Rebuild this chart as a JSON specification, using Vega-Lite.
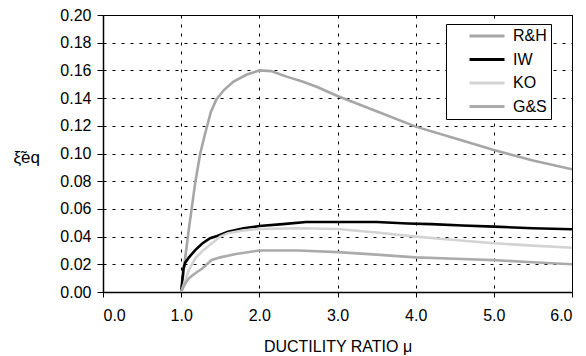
{
  "$schema": "https://vega.github.io/schema/vega-lite/v6.json",
  "width": 469,
  "height": 277,
  "autosize": "none",
  "padding": {"left": 103, "top": 15, "right": 14, "bottom": 64},
  "background": "white",
  "config": {
    "font": "Liberation Sans",
    "view": {"stroke": "black", "strokeWidth": 1},
    "axis": {
      "labelFont": "Liberation Sans",
      "titleFont": "Liberation Sans",
      "labelFontSize": 16,
      "titleFontSize": 16,
      "labelColor": "black",
      "titleColor": "black",
      "titleFontWeight": "normal",
      "domainColor": "black",
      "domainWidth": 1.5,
      "tickColor": "black",
      "tickWidth": 1,
      "gridColor": "black",
      "gridDash": [3, 6],
      "gridWidth": 1,
      "gridOpacity": 1
    },
    "legend": {
      "labelFont": "Liberation Sans",
      "labelFontSize": 16,
      "labelColor": "black"
    }
  },
  "data": {
    "values": [
      {"model": "R&H", "mu": 1.0, "xi": 0},
      {"model": "R&H", "mu": 1.05, "xi": 0.024},
      {"model": "R&H", "mu": 1.1, "xi": 0.046},
      {"model": "R&H", "mu": 1.18, "xi": 0.079},
      {"model": "R&H", "mu": 1.244, "xi": 0.1},
      {"model": "R&H", "mu": 1.3, "xi": 0.113},
      {"model": "R&H", "mu": 1.38, "xi": 0.13},
      {"model": "R&H", "mu": 1.45, "xi": 0.139},
      {"model": "R&H", "mu": 1.55, "xi": 0.146},
      {"model": "R&H", "mu": 1.67, "xi": 0.152},
      {"model": "R&H", "mu": 1.84, "xi": 0.157},
      {"model": "R&H", "mu": 2.0, "xi": 0.16},
      {"model": "R&H", "mu": 2.15, "xi": 0.1595},
      {"model": "R&H", "mu": 2.35, "xi": 0.1555},
      {"model": "R&H", "mu": 2.55, "xi": 0.152},
      {"model": "R&H", "mu": 2.74, "xi": 0.148},
      {"model": "R&H", "mu": 3.0, "xi": 0.1415},
      {"model": "R&H", "mu": 3.5, "xi": 0.1305},
      {"model": "R&H", "mu": 4.0, "xi": 0.1194},
      {"model": "R&H", "mu": 4.5, "xi": 0.111},
      {"model": "R&H", "mu": 5.0, "xi": 0.1025},
      {"model": "R&H", "mu": 5.5, "xi": 0.095},
      {"model": "R&H", "mu": 6.0, "xi": 0.0886},
      {"model": "IW", "mu": 1.0, "xi": 0},
      {"model": "IW", "mu": 1.03, "xi": 0.017},
      {"model": "IW", "mu": 1.05, "xi": 0.021},
      {"model": "IW", "mu": 1.1, "xi": 0.025},
      {"model": "IW", "mu": 1.18, "xi": 0.0303},
      {"model": "IW", "mu": 1.27, "xi": 0.035},
      {"model": "IW", "mu": 1.37, "xi": 0.0388},
      {"model": "IW", "mu": 1.46, "xi": 0.0405},
      {"model": "IW", "mu": 1.6, "xi": 0.0435},
      {"model": "IW", "mu": 1.8, "xi": 0.046},
      {"model": "IW", "mu": 2.0, "xi": 0.0476},
      {"model": "IW", "mu": 2.3, "xi": 0.049},
      {"model": "IW", "mu": 2.6, "xi": 0.0505},
      {"model": "IW", "mu": 3.0, "xi": 0.0505},
      {"model": "IW", "mu": 3.5, "xi": 0.0505},
      {"model": "IW", "mu": 3.9, "xi": 0.0495},
      {"model": "IW", "mu": 4.2, "xi": 0.049},
      {"model": "IW", "mu": 4.6, "xi": 0.048},
      {"model": "IW", "mu": 5.0, "xi": 0.0472},
      {"model": "IW", "mu": 5.5, "xi": 0.046},
      {"model": "IW", "mu": 6.0, "xi": 0.0453},
      {"model": "KO", "mu": 1.0, "xi": 0},
      {"model": "KO", "mu": 1.1, "xi": 0.016},
      {"model": "KO", "mu": 1.18, "xi": 0.0243},
      {"model": "KO", "mu": 1.28, "xi": 0.03},
      {"model": "KO", "mu": 1.39, "xi": 0.035},
      {"model": "KO", "mu": 1.5, "xi": 0.04},
      {"model": "KO", "mu": 1.6, "xi": 0.0425},
      {"model": "KO", "mu": 1.8, "xi": 0.0445},
      {"model": "KO", "mu": 2.0, "xi": 0.0455},
      {"model": "KO", "mu": 2.5, "xi": 0.046},
      {"model": "KO", "mu": 3.0, "xi": 0.0455},
      {"model": "KO", "mu": 3.5, "xi": 0.043},
      {"model": "KO", "mu": 4.0, "xi": 0.04},
      {"model": "KO", "mu": 4.5, "xi": 0.0375},
      {"model": "KO", "mu": 5.0, "xi": 0.0352},
      {"model": "KO", "mu": 5.5, "xi": 0.0335},
      {"model": "KO", "mu": 6.0, "xi": 0.032},
      {"model": "G&S", "mu": 1.0, "xi": 0},
      {"model": "G&S", "mu": 1.05, "xi": 0.006},
      {"model": "G&S", "mu": 1.1, "xi": 0.01},
      {"model": "G&S", "mu": 1.18, "xi": 0.0135},
      {"model": "G&S", "mu": 1.27, "xi": 0.017},
      {"model": "G&S", "mu": 1.39, "xi": 0.0231},
      {"model": "G&S", "mu": 1.5, "xi": 0.025},
      {"model": "G&S", "mu": 1.7, "xi": 0.0275},
      {"model": "G&S", "mu": 2.0, "xi": 0.03},
      {"model": "G&S", "mu": 2.5, "xi": 0.03},
      {"model": "G&S", "mu": 3.0, "xi": 0.0288},
      {"model": "G&S", "mu": 3.5, "xi": 0.027},
      {"model": "G&S", "mu": 4.0, "xi": 0.025},
      {"model": "G&S", "mu": 4.5, "xi": 0.024},
      {"model": "G&S", "mu": 5.0, "xi": 0.023},
      {"model": "G&S", "mu": 5.5, "xi": 0.0215},
      {"model": "G&S", "mu": 6.0, "xi": 0.02}
    ]
  },
  "mark": {"type": "line", "strokeWidth": 2.6, "clip": true},
  "encoding": {
    "x": {
      "field": "mu",
      "type": "quantitative",
      "scale": {"domain": [0, 6], "nice": false, "zero": false},
      "axis": {
        "values": [0, 1, 2, 3, 4, 5, 6],
        "format": ".1f",
        "title": "DUCTILITY RATIO  μ",
        "tickSize": 5,
        "labelPadding": 10,
        "titleY": 59,
        "titleBaseline": "alphabetic"
      }
    },
    "y": {
      "field": "xi",
      "type": "quantitative",
      "scale": {"domain": [0, 0.2], "nice": false},
      "axis": {
        "values": [0, 0.02, 0.04, 0.06, 0.08, 0.1, 0.12, 0.14, 0.16, 0.18, 0.2],
        "format": ".2f",
        "title": "ξ̃eq",
        "titleFontSize": 17,
        "titleAngle": 0,
        "titleAlign": "left",
        "titleBaseline": "middle",
        "titleX": -90,
        "titleY": 142,
        "tickSize": 6,
        "labelPadding": 6
      }
    },
    "color": {
      "field": "model",
      "type": "nominal",
      "sort": ["R&H", "IW", "KO", "G&S"],
      "scale": {
        "domain": ["R&H", "IW", "KO", "G&S"],
        "range": ["#a6a6a6", "#000000", "#d3d3d3", "#ababab"]
      },
      "legend": {
        "title": null,
        "orient": "none",
        "legendX": 343,
        "legendY": 9,
        "direction": "vertical",
        "strokeColor": "black",
        "fillColor": "white",
        "padding": 4,
        "symbolType": "M-5,0H5",
        "symbolSize": 49,
        "symbolStrokeWidth": 3,
        "symbolOffset": 29,
        "labelOffset": 18,
        "rowPadding": 7.5
      }
    }
  }
}
